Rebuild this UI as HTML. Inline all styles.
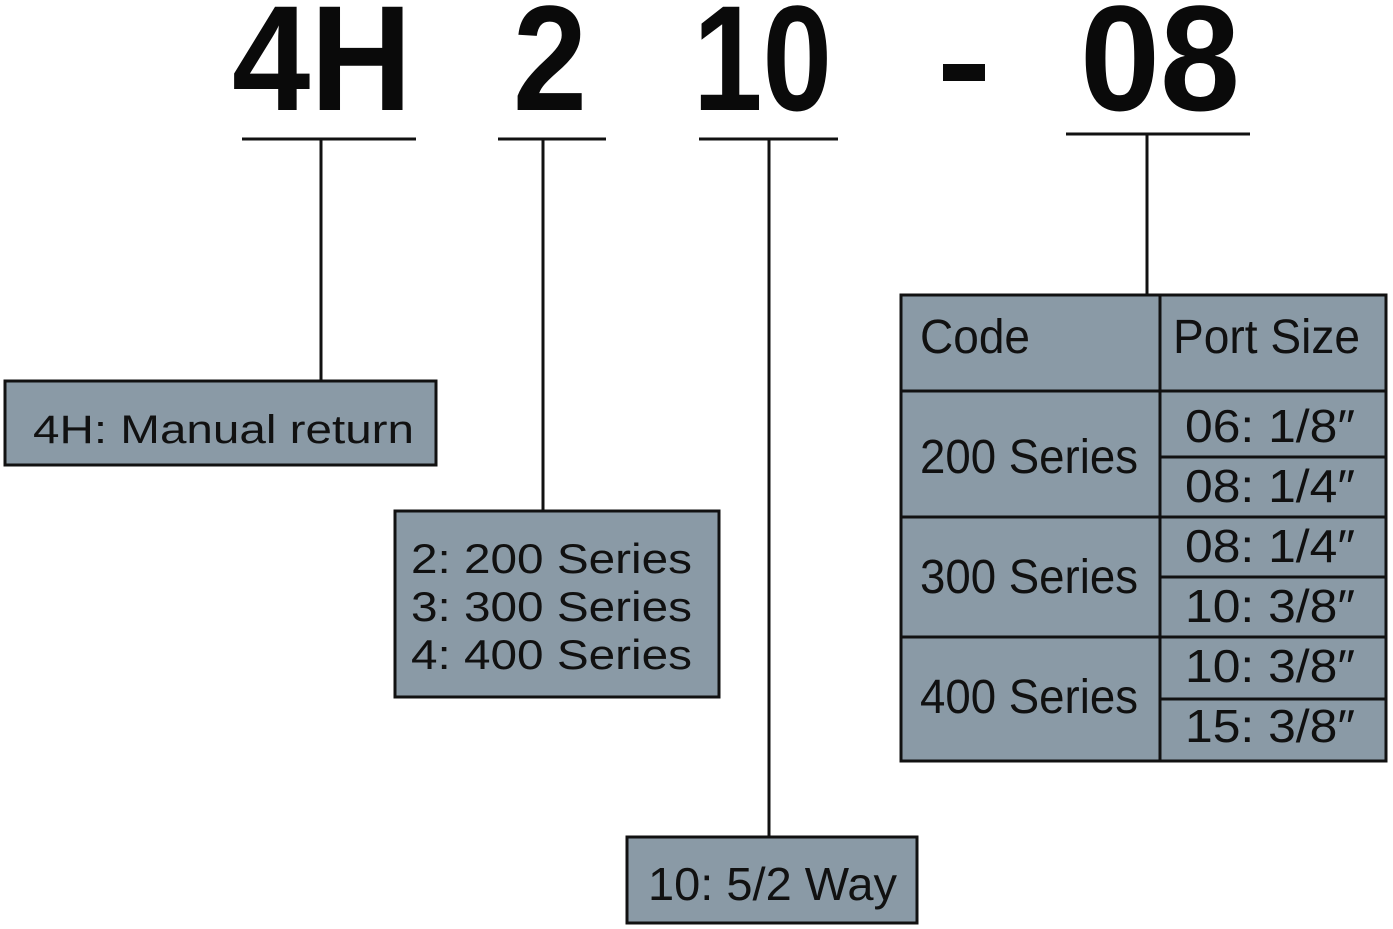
<!DOCTYPE html>
<html><head><meta charset="utf-8"><style>html,body{margin:0;padding:0;background:#fff}svg{display:block}</style></head>
<body>
<svg width="1393" height="929" xmlns="http://www.w3.org/2000/svg" font-family="Liberation Sans, sans-serif">
<g font-weight="bold" font-size="150" fill="#0a0a0a">
<text x="232" y="110" textLength="180" lengthAdjust="spacingAndGlyphs">4H</text>
<text x="513" y="110" textLength="74" lengthAdjust="spacingAndGlyphs">2</text>
<text x="693" y="110" textLength="139" lengthAdjust="spacingAndGlyphs">10</text>
<rect x="943" y="64" width="42" height="17" fill="#0a0a0a"/>
<text x="1080" y="110" textLength="160" lengthAdjust="spacingAndGlyphs">08</text>
</g>
<g stroke="#111" stroke-width="3" fill="none">
<line x1="242" y1="139" x2="416" y2="139"/>
<line x1="498" y1="139" x2="606" y2="139"/>
<line x1="699" y1="139" x2="838" y2="139"/>
<line x1="1066" y1="134" x2="1250" y2="134"/>
<line x1="321" y1="139" x2="321" y2="381"/>
<line x1="543" y1="139" x2="543" y2="511"/>
<line x1="769" y1="139" x2="769" y2="837"/>
<line x1="1147" y1="134" x2="1147" y2="295"/>
</g>
<g fill="#8a9aa6" stroke="#111" stroke-width="3">
<rect x="5" y="381" width="431" height="84"/>
<rect x="395" y="511" width="324" height="186"/>
<rect x="627" y="837" width="290" height="86"/>
<rect x="901" y="295" width="485" height="466"/>
</g>
<g stroke="#111" stroke-width="3">
<line x1="1160" y1="295" x2="1160" y2="761"/>
<line x1="901" y1="391" x2="1386" y2="391"/>
<line x1="901" y1="517" x2="1386" y2="517"/>
<line x1="901" y1="637" x2="1386" y2="637"/>
<line x1="1160" y1="457" x2="1386" y2="457"/>
<line x1="1160" y1="577" x2="1386" y2="577"/>
<line x1="1160" y1="699" x2="1386" y2="699"/>
</g>
<g fill="#111">
<text x="33" y="443" font-size="40" textLength="381" lengthAdjust="spacingAndGlyphs">4H: Manual return</text>
<text x="411" y="573" font-size="42" textLength="281" lengthAdjust="spacingAndGlyphs">2: 200 Series</text>
<text x="411" y="621" font-size="42" textLength="281" lengthAdjust="spacingAndGlyphs">3: 300 Series</text>
<text x="411" y="669" font-size="42" textLength="281" lengthAdjust="spacingAndGlyphs">4: 400 Series</text>
<text x="648" y="900" font-size="46" textLength="249" lengthAdjust="spacingAndGlyphs">10: 5/2 Way</text>
<text x="920" y="353" font-size="48" textLength="110" lengthAdjust="spacingAndGlyphs">Code</text>
<text x="1173" y="353" font-size="48" textLength="187" lengthAdjust="spacingAndGlyphs">Port Size</text>
<text x="920" y="473" font-size="48" textLength="218" lengthAdjust="spacingAndGlyphs">200 Series</text>
<text x="920" y="593" font-size="48" textLength="218" lengthAdjust="spacingAndGlyphs">300 Series</text>
<text x="920" y="713" font-size="48" textLength="218" lengthAdjust="spacingAndGlyphs">400 Series</text>
<g font-size="46">
<text x="1185" y="442" textLength="170" lengthAdjust="spacingAndGlyphs">06: 1/8″</text>
<text x="1185" y="502" textLength="170" lengthAdjust="spacingAndGlyphs">08: 1/4″</text>
<text x="1185" y="562" textLength="170" lengthAdjust="spacingAndGlyphs">08: 1/4″</text>
<text x="1185" y="622" textLength="170" lengthAdjust="spacingAndGlyphs">10: 3/8″</text>
<text x="1185" y="682" textLength="170" lengthAdjust="spacingAndGlyphs">10: 3/8″</text>
<text x="1185" y="742" textLength="170" lengthAdjust="spacingAndGlyphs">15: 3/8″</text>
</g>
</g>
</svg>
</body></html>
